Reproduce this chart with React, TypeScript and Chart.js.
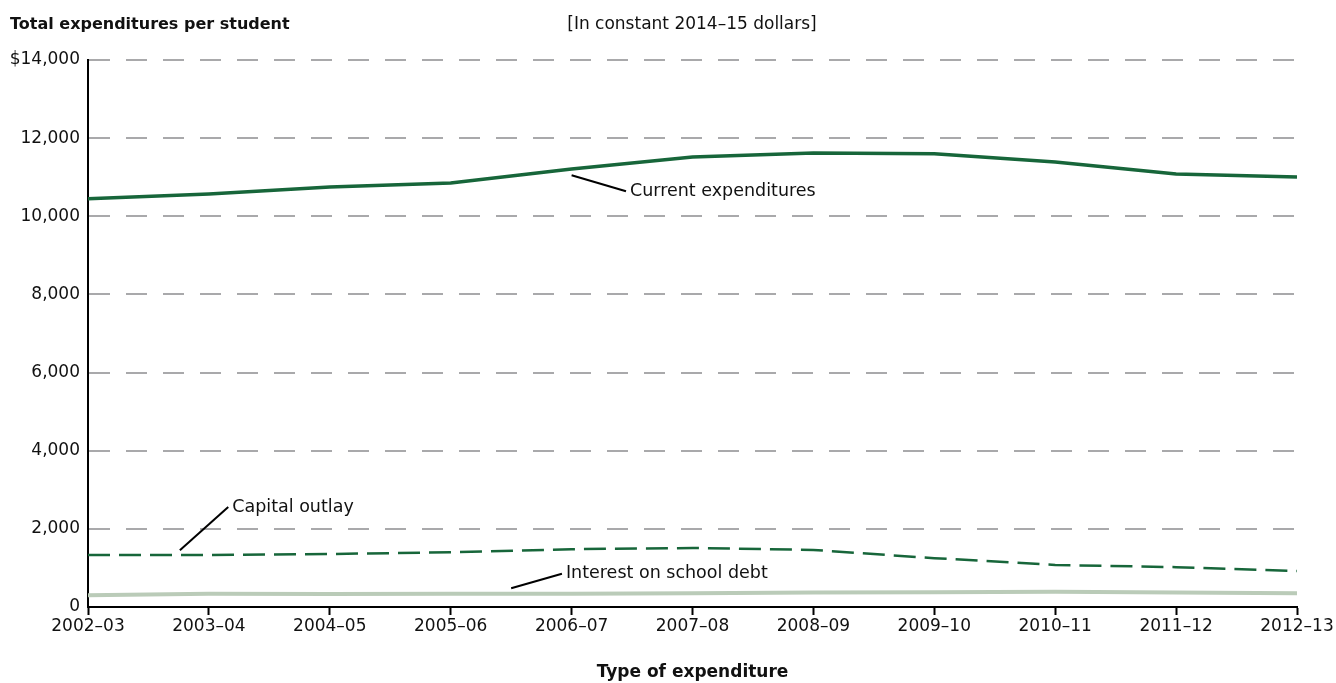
import React, { useEffect, useRef } from "react";
import { Chart, registerables } from "chart.js";

Chart.register(...registerables);

const years = ["2002–03", "2003–04", "2004–05", "2005–06", "2006–07", "2007–08", "2008–09", "2009–10", "2010–11", "2011–12", "2012–13"];
const currentExp = [10450, 10570, 10750, 10850, 11210, 11520, 11620, 11600, 11390, 11080, 11005];
const capitalOutlay = [1330, 1330, 1356, 1400, 1480, 1510, 1460, 1250, 1075, 1020, 920];
const interestDebt = [300, 340, 330, 340, 340, 350, 370, 380, 390, 370, 350];
const yTicks = [0, 2000, 4000, 6000, 8000, 10000, 12000, 14000];

const FONT = "'DejaVu Sans', sans-serif";

const annotations = {
  id: "annotations",
  afterDraw(chart: any) {
    const { ctx, scales } = chart;
    const xs = scales.x;
    const ys = scales.y;
    ctx.save();
    ctx.fillStyle = "#111";
    ctx.textBaseline = "middle";
    ctx.font = `bold 16px ${FONT}`;
    ctx.textAlign = "left";
    ctx.fillText("Total expenditures per student", 10, 25);
    ctx.font = `17px ${FONT}`;
    ctx.textAlign = "center";
    ctx.fillText("[In constant 2014–15 dollars]", 692, 25);
    ctx.font = `bold 17px ${FONT}`;
    ctx.fillText("Type of expenditure", (xs.left + xs.right) / 2, 673);

    ctx.strokeStyle = "#000";
    ctx.lineWidth = 2;
    ctx.font = `17.5px ${FONT}`;
    ctx.textAlign = "left";
    const leader = (x1: number, y1: number, x2: number, y2: number, text: string) => {
      ctx.beginPath();
      ctx.moveTo(x1, y1);
      ctx.lineTo(x2, y2);
      ctx.stroke();
      ctx.fillText(text, x2 + 4, y2);
    };
    const step = xs.getPixelForValue(1) - xs.getPixelForValue(0);
    leader(xs.getPixelForValue(4), ys.getPixelForValue(11050), xs.getPixelForValue(4) + step * 0.45, ys.getPixelForValue(10640), "Current expenditures");
    leader(xs.getPixelForValue(0.76), ys.getPixelForValue(1450), xs.getPixelForValue(1.16), ys.getPixelForValue(2560), "Capital outlay");
    leader(xs.getPixelForValue(3.5), ys.getPixelForValue(480), xs.getPixelForValue(3.92), ys.getPixelForValue(850), "Interest on school debt");
    ctx.restore();
  },
};

export default function App() {
  const ref = useRef<HTMLCanvasElement>(null);
  useEffect(() => {
    document.body.style.margin = "0";
    const chart = new Chart(ref.current!, {
      type: "line",
      data: {
        labels: years,
        datasets: [
          {
            label: "Current expenditures",
            data: currentExp,
            borderColor: "#17663a",
            borderWidth: 3.5,
            pointRadius: 0,
            tension: 0,
          },
          {
            label: "Capital outlay",
            data: capitalOutlay,
            borderColor: "#17663a",
            borderWidth: 2.5,
            borderDash: [22, 9],
            pointRadius: 0,
            tension: 0,
          },
          {
            label: "Interest on school debt",
            data: interestDebt,
            borderColor: "#bacbb8",
            borderWidth: 4,
            pointRadius: 0,
            tension: 0,
          },
        ],
      },
      options: {
        animation: false,
        responsive: false,
        layout: { padding: { top: 60, right: 39, bottom: 0, left: 0 } },
        plugins: { legend: { display: false }, tooltip: { enabled: false }, title: { display: false } },
        scales: {
          x: {
            offset: false,
            grid: { display: true, drawOnChartArea: false, drawTicks: true, tickLength: 8, tickColor: "#000", tickWidth: 2 },
            border: { display: true, color: "#000", width: 2 },
            ticks: { color: "#111", font: { family: FONT, size: 17 }, padding: 1, maxRotation: 0, autoSkip: false },
            afterFit(scale: any) {
              scale.height = 76;
            },
          },
          y: {
            min: 0,
            max: 14000,
            afterBuildTicks(scale: any) {
              scale.ticks = yTicks.map((v) => ({ value: v }));
            },
            grid: { color: "#a9a9ab", lineWidth: 2, drawTicks: false },
            border: { display: true, color: "#000", width: 2, dash: [21, 16] },
            ticks: {
              color: "#111",
              font: { family: FONT, size: 17 },
              padding: 8,
              callback: (v: any) => (v === 14000 ? "$14,000" : Number(v).toLocaleString("en-US")),
            },
            afterFit(scale: any) {
              scale.width = 88;
            },
          },
        },
      },
      plugins: [annotations],
    });
    return () => chart.destroy();
  }, []);
  return (
    <div style={{ width: 1336, height: 683 }}>
      <canvas ref={ref} width={1336} height={683} style={{ display: "block" }} />
    </div>
  );
}
